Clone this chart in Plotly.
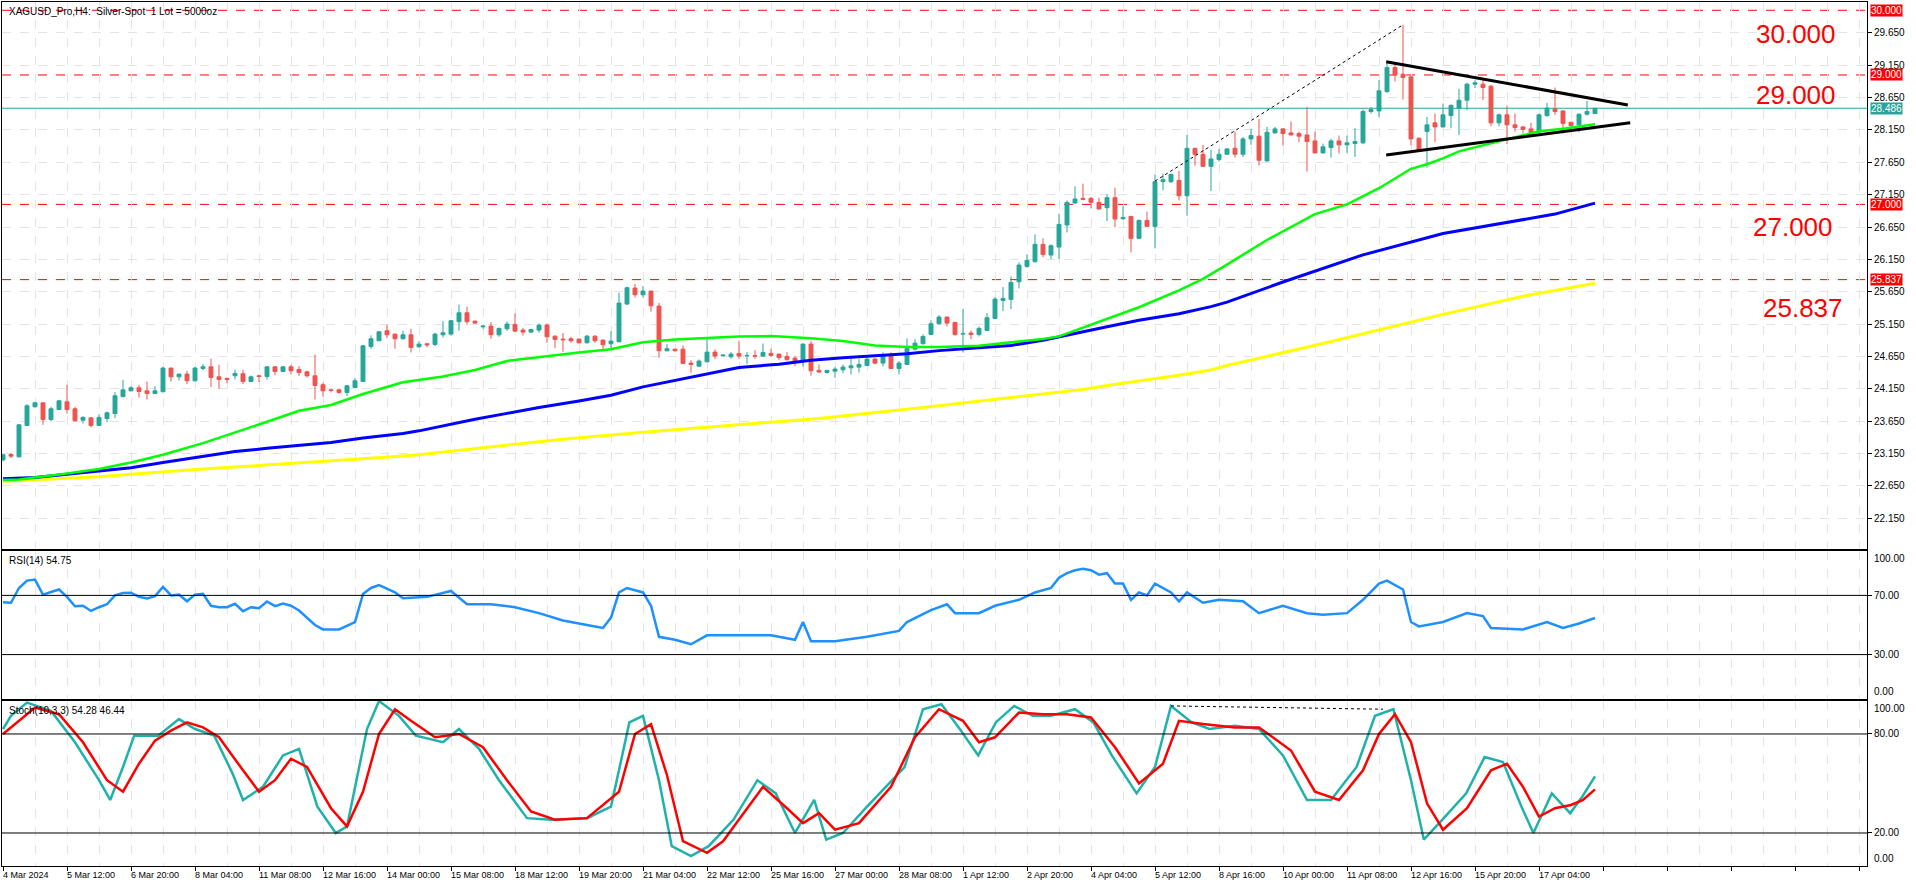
import plotly.graph_objects as go

# ---------------- data ----------------
dates = ["4 Mar 2024", "5 Mar 12:00", "6 Mar 20:00", "8 Mar 04:00", "11 Mar 08:00", "12 Mar 16:00",
         "14 Mar 00:00", "15 Mar 08:00", "18 Mar 12:00", "19 Mar 20:00", "21 Mar 04:00", "22 Mar 12:00",
         "25 Mar 16:00", "27 Mar 00:00", "28 Mar 08:00", "1 Apr 12:00", "2 Apr 20:00", "4 Apr 04:00",
         "5 Apr 12:00", "8 Apr 16:00", "10 Apr 00:00", "11 Apr 08:00", "12 Apr 16:00", "15 Apr 20:00",
         "17 Apr 04:00"]

opens = [23.05, 23.134, 23.098, 23.583, 23.872, 23.933, 23.676, 23.830, 23.949, 23.841,
         23.665, 23.701, 23.583, 23.691, 23.768, 24.031, 24.119, 24.165, 24.119, 24.078,
         24.104, 24.470, 24.335, 24.377, 24.274, 24.464, 24.490, 24.335, 24.310, 24.351,
         24.382, 24.263, 24.351, 24.341, 24.490, 24.418, 24.490, 24.449, 24.413, 24.351,
         24.212, 24.134, 24.134, 24.093, 24.170, 24.263, 24.805, 24.892, 25.047, 24.995,
         24.923, 24.985, 24.799, 24.846, 24.836, 24.985, 24.995, 25.186, 25.325, 25.196,
         25.109, 25.119, 24.985, 25.078, 25.145, 25.057, 25.026, 25.057, 25.135, 24.964,
         24.918, 24.923, 24.918, 24.861, 24.964, 24.903, 24.846, 24.877, 25.459, 25.707,
         25.604, 25.660, 25.428, 24.738, 24.763, 24.763, 24.547, 24.500, 24.567, 24.717,
         24.660, 24.645, 24.696, 24.660, 24.665, 24.655, 24.696, 24.686, 24.650, 24.624,
         24.578, 24.841, 24.435, 24.402, 24.423, 24.444, 24.474, 24.485, 24.511, 24.609,
         24.547, 24.660, 24.464, 24.526, 24.763, 24.846, 24.990, 25.155, 25.258, 25.176,
         24.995, 25.011, 24.990, 25.052, 25.237, 25.516, 25.531, 25.804, 26.042, 26.114,
         26.382, 26.217, 26.341, 26.681, 27.021, 27.093, 27.093, 27.031, 26.949, 27.104,
         26.779, 26.815, 26.475, 26.753, 26.660, 27.351, 27.351, 27.371, 27.134, 27.866,
         27.774, 27.588, 27.693, 27.775, 27.868, 27.775, 28.012, 28.054, 27.672, 28.105,
         28.167, 28.105, 28.095, 28.074, 27.981, 27.796, 27.878, 27.981, 27.920, 27.940,
         27.951, 28.435, 28.445, 28.744, 29.115, 29.012, 28.971, 28.023, 28.126, 28.260,
         28.198, 28.373, 28.487, 28.610, 28.858, 28.858, 28.827, 28.260, 28.384, 28.229,
         28.198, 28.167, 28.115, 28.373, 28.476, 28.445, 28.270, 28.229, 28.394, 28.404]
highs = [23.14, 23.160, 23.603, 23.913, 23.949, 23.939, 23.872, 23.980, 24.212, 23.872,
         23.727, 23.707, 23.758, 23.799, 24.098, 24.289, 24.191, 24.212, 24.263, 24.191,
         24.490, 24.475, 24.382, 24.428, 24.490, 24.531, 24.614, 24.521, 24.325, 24.444,
         24.444, 24.356, 24.366, 24.500, 24.500, 24.500, 24.521, 24.500, 24.428, 24.676,
         24.243, 24.145, 24.155, 24.212, 24.315, 24.820, 24.976, 25.037, 25.140, 25.001,
         25.047, 25.078, 24.887, 24.851, 25.016, 25.196, 25.212, 25.449, 25.418, 25.201,
         25.140, 25.181, 25.098, 25.191, 25.315, 25.093, 25.078, 25.160, 25.160, 24.975,
         25.011, 24.954, 24.928, 24.985, 24.975, 24.908, 25.042, 25.635, 25.727, 25.769,
         25.738, 25.665, 25.475, 24.841, 24.769, 24.820, 24.593, 24.604, 24.944, 24.758,
         24.676, 24.717, 24.892, 24.717, 24.748, 24.851, 24.769, 24.691, 24.717, 24.655,
         24.851, 24.887, 24.526, 24.444, 24.485, 24.526, 24.609, 24.609, 24.629, 24.629,
         24.712, 24.712, 24.578, 24.928, 24.918, 24.990, 25.207, 25.289, 25.268, 25.186,
         25.382, 25.052, 25.114, 25.320, 25.567, 25.722, 25.887, 26.104, 26.227, 26.537,
         26.475, 26.382, 26.856, 27.062, 27.279, 27.320, 27.114, 27.104, 27.155, 27.258,
         26.970, 26.820, 26.763, 26.887, 27.464, 27.475, 27.475, 27.516, 28.073, 27.877,
         27.918, 27.846, 27.856, 27.868, 28.126, 28.043, 28.167, 28.322, 28.198, 28.198,
         28.177, 28.280, 28.126, 28.507, 28.126, 27.940, 28.012, 28.064, 28.064, 28.177,
         28.466, 28.507, 28.920, 29.188, 29.167, 29.775, 28.981, 28.033, 28.353, 28.404,
         28.559, 28.549, 28.786, 28.878, 28.920, 28.940, 28.847, 28.404, 28.528, 28.404,
         28.208, 28.260, 28.404, 28.569, 28.806, 28.450, 28.275, 28.404, 28.600, 28.487]
lows = [23.03, 23.078, 23.088, 23.572, 23.861, 23.593, 23.645, 23.820, 23.768, 23.645,
        23.614, 23.552, 23.572, 23.634, 23.696, 24.016, 24.109, 24.016, 23.985, 24.078,
        24.098, 24.263, 24.279, 24.222, 24.263, 24.439, 24.181, 24.150, 24.237, 24.294,
        24.222, 24.253, 24.253, 24.294, 24.361, 24.408, 24.372, 24.351, 24.325, 23.985,
        24.026, 24.093, 24.072, 24.042, 24.160, 24.253, 24.768, 24.892, 24.933, 24.768,
        24.913, 24.712, 24.789, 24.789, 24.810, 24.944, 24.970, 25.047, 25.140, 25.155,
        25.078, 24.923, 24.954, 25.047, 25.026, 24.975, 25.016, 25.016, 24.861, 24.779,
        24.722, 24.861, 24.851, 24.851, 24.861, 24.758, 24.768, 24.872, 25.449, 25.562,
        25.562, 25.341, 24.629, 24.727, 24.727, 24.531, 24.397, 24.490, 24.562, 24.609,
        24.655, 24.614, 24.614, 24.531, 24.614, 24.645, 24.645, 24.593, 24.583, 24.500,
        24.490, 24.351, 24.392, 24.382, 24.320, 24.392, 24.372, 24.402, 24.500, 24.526,
        24.495, 24.464, 24.372, 24.516, 24.743, 24.836, 24.980, 25.145, 25.114, 24.969,
        24.712, 24.918, 24.959, 25.042, 25.227, 25.351, 25.382, 25.701, 26.021, 26.104,
        26.186, 26.155, 26.155, 26.567, 27.011, 27.062, 26.939, 26.923, 26.743, 26.650,
        26.763, 26.258, 26.470, 26.650, 26.320, 27.217, 27.330, 27.062, 26.825, 27.598,
        27.578, 27.207, 27.662, 27.765, 27.724, 27.734, 27.920, 27.600, 27.662, 28.095,
        27.909, 28.064, 27.961, 27.507, 27.786, 27.786, 27.724, 27.786, 27.796, 27.734,
        27.930, 28.404, 28.353, 28.724, 28.899, 28.621, 27.909, 27.827, 27.569, 27.961,
        28.188, 28.177, 28.074, 28.456, 28.796, 28.610, 28.208, 28.208, 27.930, 28.126,
        28.095, 28.095, 28.105, 28.353, 28.384, 28.095, 28.167, 28.115, 28.373, 28.394]
closes = [23.13, 23.109, 23.593, 23.887, 23.933, 23.676, 23.841, 23.964, 23.830, 23.655,
          23.707, 23.583, 23.707, 23.779, 24.042, 24.134, 24.165, 24.109, 24.078, 24.119,
          24.470, 24.335, 24.377, 24.274, 24.470, 24.490, 24.325, 24.294, 24.294, 24.387,
          24.263, 24.335, 24.341, 24.490, 24.418, 24.490, 24.428, 24.402, 24.351, 24.201,
          24.119, 24.124, 24.093, 24.196, 24.274, 24.815, 24.923, 25.031, 24.985, 24.923,
          24.985, 24.789, 24.841, 24.830, 24.995, 25.016, 25.202, 25.325, 25.186, 25.165,
          25.119, 24.985, 25.083, 25.150, 25.042, 25.026, 25.067, 25.135, 24.954, 24.913,
          24.908, 24.892, 24.861, 24.964, 24.892, 24.830, 24.887, 25.475, 25.712, 25.604,
          25.660, 25.433, 24.738, 24.769, 24.738, 24.542, 24.526, 24.578, 24.717, 24.655,
          24.671, 24.686, 24.655, 24.665, 24.655, 24.712, 24.665, 24.634, 24.604, 24.578,
          24.841, 24.428, 24.410, 24.433, 24.454, 24.485, 24.505, 24.526, 24.609, 24.547,
          24.660, 24.464, 24.547, 24.774, 24.856, 24.959, 25.155, 25.258, 25.165, 24.990,
          25.005, 24.990, 25.083, 25.248, 25.536, 25.547, 25.794, 26.062, 26.134, 26.382,
          26.227, 26.361, 26.691, 27.031, 27.083, 27.078, 27.031, 26.928, 27.104, 26.774,
          26.799, 26.475, 26.753, 26.660, 27.351, 27.382, 27.464, 27.134, 27.866, 27.774,
          27.588, 27.702, 27.775, 27.858, 27.775, 28.012, 28.064, 27.682, 28.115, 28.167,
          28.095, 28.074, 28.054, 27.971, 27.796, 27.889, 27.981, 27.920, 27.951, 27.971,
          28.435, 28.466, 28.755, 29.115, 29.002, 28.961, 28.012, 27.837, 28.229, 28.198,
          28.384, 28.528, 28.610, 28.858, 28.878, 28.806, 28.260, 28.384, 28.229, 28.188,
          28.157, 28.115, 28.384, 28.487, 28.435, 28.250, 28.219, 28.394, 28.435, 28.486]

# moving averages (bar index, value)
ma_green_x = [0, 2, 8, 12, 16, 20, 25, 29, 33, 37, 41, 45, 50, 55, 59, 63, 67, 72, 76, 80, 84, 88, 92, 96,
              101, 105, 109, 113, 117, 122, 126, 130, 132, 134, 138, 142, 147, 150, 153, 158, 164, 168,
              172, 174, 176, 178, 180, 182, 184, 186, 188, 190, 192, 195, 197, 199]
ma_green_y = [22.74, 22.75, 22.84, 22.91, 23.01, 23.13, 23.31, 23.47, 23.64, 23.81, 23.90, 24.07, 24.25,
              24.34, 24.44, 24.58, 24.64, 24.71, 24.76, 24.87, 24.91, 24.93, 24.96, 24.965, 24.93, 24.89,
              24.82, 24.795, 24.795, 24.815, 24.87, 24.92, 24.96, 25.05, 25.22, 25.41, 25.67, 25.85, 26.07,
              26.45, 26.85, 27.00, 27.25, 27.40, 27.55, 27.62, 27.71, 27.82, 27.88, 27.945, 28.01, 28.06,
              28.13, 28.17, 28.21, 28.24]
ma_blue_x = [0, 4, 8, 12, 16, 20, 25, 29, 33, 37, 41, 45, 50, 52, 59, 63, 67, 72, 76, 80, 84, 88, 92, 97,
             101, 105, 109, 113, 117, 122, 126, 130, 134, 138, 142, 147, 151, 153, 160, 170, 180, 190,
             194, 199]
ma_blue_y = [22.76, 22.78, 22.83, 22.88, 22.93, 23.01, 23.10, 23.18, 23.23, 23.27, 23.32, 23.39, 23.46,
             23.50, 23.68, 23.77, 23.86, 23.96, 24.05, 24.18, 24.28, 24.38, 24.48, 24.53, 24.59, 24.63,
             24.665, 24.69, 24.74, 24.78, 24.82, 24.90, 25.01, 25.11, 25.21, 25.31, 25.42, 25.49, 25.80,
             26.22, 26.55, 26.76, 26.85, 27.02]
ma_yellow_x = [0, 4, 8, 12, 16, 20, 25, 29, 33, 37, 41, 45, 50, 52, 60, 70, 80, 90, 102, 115, 125, 135,
               138, 142, 147, 151, 153, 165, 180, 190, 199]
ma_yellow_y = [22.72, 22.74, 22.76, 22.79, 22.83, 22.87, 22.91, 22.94, 22.97, 23.01, 23.04, 23.07, 23.11,
               23.13, 23.24, 23.37, 23.48, 23.58, 23.69, 23.86, 24.00, 24.14, 24.20, 24.27, 24.36, 24.44,
               24.51, 24.85, 25.30, 25.58, 25.78]

rsi_x = [0, 1, 2, 3, 4, 5, 6, 7, 8, 9, 10, 11, 12, 13, 14, 15, 16, 17, 18, 19, 20, 21, 22, 23, 24, 25, 26,
         27, 28, 29, 30, 31, 32, 33, 34, 35, 36, 37, 39, 40, 42, 44, 45, 46, 47, 49, 50, 53, 56, 58, 61,
         64, 67, 70, 73, 75, 76, 77, 78, 80, 81, 82, 84, 86, 88, 92, 96, 99, 100, 101, 104, 108, 112, 113,
         116, 118, 119, 122, 124, 127, 129, 131, 132, 133, 134, 135, 136, 137, 138, 139, 140, 141, 142,
         143, 144, 146, 147, 148, 150, 152, 155, 157, 160, 163, 165, 168, 170, 172, 173, 175, 176, 177,
         180, 183, 185, 186, 190, 193, 195, 197, 199]
rsi_y = [65.4, 65, 75, 80, 80.7, 70.5, 72.3, 74, 69, 62.7, 63, 59.5, 62, 64, 70, 71.6, 71.8, 69, 68, 69.5,
         75.7, 70, 70.5, 66, 70.5, 71, 63, 62, 62, 64.3, 59.3, 62, 61.3, 65.9, 62.7, 64.5, 63, 59.8, 50, 47,
         47, 52, 71, 75, 77, 72, 68, 69, 73, 64, 64, 62, 58, 53, 50, 48, 55, 72, 75, 72, 63, 42, 40, 37, 43,
         43, 43, 40, 52, 39, 39, 42, 46, 52, 60, 64, 58, 58, 63, 67, 72, 75, 82, 85, 87, 88, 87, 84, 85, 78,
         78, 67, 72, 70, 78, 72, 66, 72, 65, 67, 66, 58, 63, 58, 57, 58, 67, 78, 80, 74, 52, 49, 52, 58, 56,
         48, 47, 52, 48, 51, 54.75]

stk_x = [0, 1, 3, 6, 9, 12, 13.4, 15, 16.4, 19.4, 22, 24, 26.4, 28.7, 30, 32.5, 35, 37, 39.3, 41.6, 43, 45.5,
         47, 49.5, 51.6, 55, 57, 59.5, 62, 65.5, 68.5, 73, 76, 78.3, 80, 82, 83.6, 86, 88.2, 91.3, 94.3, 96.6,
         99, 101.4, 102.9, 105, 108, 112.7, 115, 117.3, 119.6, 121.9, 124.1, 126.4, 128.7, 131, 134, 136.3,
         138.6, 141.7, 144, 146, 148.6, 150.8, 154, 157, 160, 163, 166, 169.2, 171.5, 173.8, 176, 177.6,
         179.9, 182.9, 185.2, 187.5, 189.8, 191.3, 193.6, 195.9, 197.4, 199]
stk_y = [83, 91, 99, 94, 75, 52, 40, 60, 79, 79, 89, 83, 79, 56, 40, 48, 67, 71, 36, 20, 24, 83, 100, 91, 79,
         75, 83, 71, 52, 29, 28, 29, 36, 87, 91, 52, 12, 6, 12, 28, 52, 44, 20, 40, 16, 20, 36, 60, 95, 98,
         83, 67, 87, 97, 91, 91, 95, 87, 67, 44, 60, 97, 87, 83, 85, 83, 67, 40, 40, 60, 91, 95, 52, 16, 28,
         44, 66, 63, 36, 20, 44, 32, 42, 54.28]
std_x = [0, 2, 4, 7, 10, 13, 15, 17, 19, 21, 23, 25, 27, 30, 32, 34, 36, 38, 41, 43, 45, 47, 49, 51, 54, 57,
         60, 63, 66, 69, 73, 77, 79, 81, 83, 85, 88, 90, 93, 95, 98, 100, 102, 104, 107, 111, 114, 117, 120,
         122, 124, 127, 130, 133, 136, 139, 142, 145, 147, 150, 154, 157, 161, 164, 167, 170, 172, 174, 176,
         178, 180, 183, 186, 188, 190, 192, 194, 196, 197.5, 199]
std_y = [80, 88, 96, 92, 75, 52, 45, 62, 76, 82, 87, 84, 78, 58, 45, 52, 65, 60, 35, 24, 45, 80, 95, 88, 78,
         80, 72, 52, 33, 28, 29, 45, 80, 86, 55, 15, 8, 15, 35, 48, 35, 26, 32, 22, 26, 48, 78, 95, 88, 75, 78,
         93, 92, 92, 90, 72, 50, 62, 88, 86, 84, 84, 70, 45, 40, 58, 80, 92, 75, 38, 22, 35, 58, 62, 48, 30,
         35, 37, 40, 46.44]

levels = [30.000, 29.000, 27.000, 25.837]
level_text = ["30.000", "29.000", "27.000", "25.837"]
bid = 28.486
price_ticks = [22.15 + 0.5 * k for k in range(16)]

# ---------------- styling ----------------
TEAL = "#26a69a"
RED = "#ef5350"
GRID = "#e4e4e4"
FONT = "Liberation Sans"
N = len(closes)
idx = list(range(N))
XR = [-0.125, 233.0]

fig = go.Figure()
fig.add_trace(go.Scatter(x=ma_yellow_x, y=ma_yellow_y, mode="lines", line=dict(color="#ffff00", width=3),
                         xaxis="x", yaxis="y", hoverinfo="skip"))
fig.add_trace(go.Scatter(x=ma_blue_x, y=ma_blue_y, mode="lines", line=dict(color="#0000ff", width=3),
                         xaxis="x", yaxis="y", hoverinfo="skip"))
fig.add_trace(go.Scatter(x=ma_green_x, y=ma_green_y, mode="lines", line=dict(color="#00ff00", width=2.5),
                         xaxis="x", yaxis="y", hoverinfo="skip"))
fig.add_trace(go.Candlestick(x=idx, open=opens, high=highs, low=lows, close=closes,
                             increasing=dict(line=dict(color=TEAL, width=1), fillcolor=TEAL),
                             decreasing=dict(line=dict(color=RED, width=1), fillcolor=RED),
                             xaxis="x", yaxis="y", hoverinfo="skip"))
# triangle trend lines and thin dashed line
fig.add_trace(go.Scatter(x=[172.9, 203.1], y=[29.206, 28.536], mode="lines",
                         line=dict(color="black", width=3), xaxis="x", yaxis="y", hoverinfo="skip"))
fig.add_trace(go.Scatter(x=[172.9, 203.4], y=[27.764, 28.263], mode="lines",
                         line=dict(color="black", width=3), xaxis="x", yaxis="y", hoverinfo="skip"))
fig.add_trace(go.Scatter(x=[144, 175], y=[27.36, 29.775], mode="lines",
                         line=dict(color="black", width=1, dash="dot"), xaxis="x", yaxis="y", hoverinfo="skip"))

fig.add_trace(go.Scatter(x=rsi_x, y=rsi_y, mode="lines", line=dict(color="#1e90ff", width=2.5),
                         xaxis="x2", yaxis="y2", hoverinfo="skip"))
fig.add_trace(go.Scatter(x=stk_x, y=stk_y, mode="lines", line=dict(color="#20b2aa", width=2.5),
                         xaxis="x3", yaxis="y3", hoverinfo="skip"))
fig.add_trace(go.Scatter(x=std_x, y=std_y, mode="lines", line=dict(color="#ff0000", width=2.5),
                         xaxis="x3", yaxis="y3", hoverinfo="skip"))
fig.add_trace(go.Scatter(x=[146, 172.5], y=[97, 95], mode="lines",
                         line=dict(color="black", width=1, dash="dot"), xaxis="x3", yaxis="y3", hoverinfo="skip"))

shapes = []
for lv in levels:
    shapes.append(dict(type="line", xref="paper", x0=0, x1=1, yref="y", y0=lv, y1=lv,
                       line=dict(color="#ff0000", width=1, dash="dash"), layer="below"))
shapes.append(dict(type="line", xref="paper", x0=0, x1=1, yref="y", y0=bid, y1=bid,
                   line=dict(color=TEAL, width=1), layer="below"))
for lv in (70, 30):
    shapes.append(dict(type="line", xref="paper", x0=0, x1=1, yref="y2", y0=lv, y1=lv,
                       line=dict(color="black", width=1)))
for lv in (80, 20):
    shapes.append(dict(type="line", xref="paper", x0=0, x1=1, yref="y3", y0=lv, y1=lv,
                       line=dict(color="black", width=1)))

lab_font = dict(family=FONT, size=10, color="black")
ann = []
ann.append(dict(text="XAGUSD_Pro,H4:  Silver-Spot  1 Lot = 5000oz", xref="paper", yref="paper", x=0, y=1,
                xanchor="left", yanchor="top", xshift=5, yshift=-2, showarrow=False, font=lab_font))
ann.append(dict(text="RSI(14) 54.75", xref="paper", yref="y2 domain", x=0, y=1, xanchor="left", yanchor="top",
                xshift=5, yshift=-2, showarrow=False, font=lab_font))
ann.append(dict(text="Stoch(10,3,3) 54.28 46.44", xref="paper", yref="y3 domain", x=0, y=1, xanchor="left",
                yanchor="top", xshift=5, yshift=-2, showarrow=False, font=lab_font))
# top / bottom labels of the oscillator scales sit inside their panel like in the reference
for yr in ("y2", "y3"):
    ann.append(dict(text="100.00", xref="paper", yref=yr, x=1, y=100, xanchor="left", yanchor="top",
                    xshift=5, yshift=0, showarrow=False, font=lab_font))
    ann.append(dict(text="0.00", xref="paper", yref=yr, x=1, y=0, xanchor="left", yanchor="bottom",
                    xshift=5, yshift=0, showarrow=False, font=lab_font))
for lv, tx in zip(levels, level_text):
    ann.append(dict(text=tx, xref="paper", yref="y", x=1, y=lv, xanchor="left", yanchor="middle", xshift=3,
                    showarrow=False, bgcolor="#ff0000", borderpad=0,
                    font=dict(family=FONT, size=10, color="white")))
ann.append(dict(text=f"{bid:.3f}", xref="paper", yref="y", x=1, y=bid, xanchor="left", yanchor="middle",
                xshift=3, showarrow=False, bgcolor=TEAL, borderpad=0, font=dict(family=FONT, size=10, color="white")))
# big red level captions (pixel offsets from each level as in the reference)
big_off = [(0, -24), (0, -20), (-3, -23), (7, -28)]
for lv, tx, (dx, dy) in zip(levels, level_text, big_off):
    ann.append(dict(text=tx, xref="paper", yref="y", x=1, y=lv, xanchor="left", yanchor="middle",
                    xshift=-113 + dx, yshift=dy, showarrow=False,
                    font=dict(family=FONT, size=26, color="#ff0000")))
for k, d in enumerate(dates):
    ann.append(dict(text=d, xref="x3", yref="paper", x=8 * k, y=0, xanchor="left", yanchor="top",
                    xshift=-2, yshift=-2, showarrow=False, font=dict(family=FONT, size=9, color="black")))

axis_common = dict(showline=True, mirror=True, linecolor="black", linewidth=1, zeroline=False)
xgrid = dict(showgrid=True, gridcolor=GRID, griddash="dash", gridwidth=1,
             tickvals=list(range(0, 233, 8)),
             minor=dict(tickvals=list(range(4, 233, 8)), showgrid=True, gridcolor=GRID, griddash="dash",
                        gridwidth=1))

fig.update_layout(
    width=1916, height=888, template="none",
    paper_bgcolor="white", plot_bgcolor="white", showlegend=False,
    margin=dict(l=2, r=49, t=2, b=22),
    font=dict(family=FONT, size=10, color="black"),
    xaxis=dict(domain=[0, 1], range=XR, anchor="y", showticklabels=False, ticks="",
               rangeslider=dict(visible=False), **xgrid, **axis_common),
    xaxis2=dict(domain=[0, 1], range=XR, anchor="y2", matches="x", showticklabels=False, ticks="",
                **xgrid, **axis_common),
    xaxis3=dict(domain=[0, 1], range=XR, anchor="y3", matches="x", showticklabels=False, ticks="outside",
                ticklen=4, tickcolor="black", **xgrid, **axis_common),
    yaxis=dict(domain=[0.3669, 1.0], range=[21.674, 30.128], side="right", anchor="x",
               tickvals=price_ticks, ticktext=[f"{v:.3f}" for v in price_ticks], ticks="outside", ticklen=4,
               tickcolor="black", showgrid=True, gridcolor=GRID, griddash="dash",
               tickfont=dict(family=FONT, size=10), **axis_common),
    yaxis2=dict(domain=[0.1933, 0.3646], range=[0, 100], side="right", anchor="x2",
                tickvals=[30, 70], ticktext=["30.00", "70.00"], ticks="outside",
                ticklen=4, tickcolor="black", showgrid=False, tickfont=dict(family=FONT, size=10), **axis_common),
    yaxis3=dict(domain=[0.0, 0.1910], range=[0, 100], side="right", anchor="x3",
                tickvals=[20, 80], ticktext=["20.00", "80.00"], ticks="outside",
                ticklen=4, tickcolor="black", showgrid=False, tickfont=dict(family=FONT, size=10), **axis_common),
    shapes=shapes, annotations=ann,
)

fig.write_html("out.html")
